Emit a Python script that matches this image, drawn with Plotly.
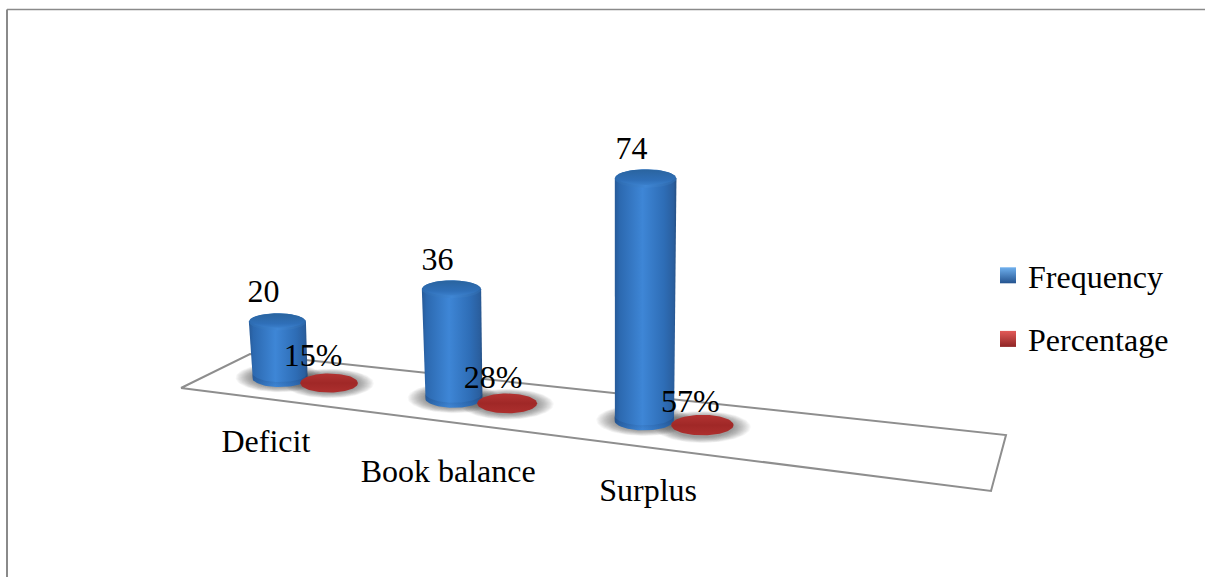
import numpy as np
import plotly.graph_objects as go

# Chart data
categories = ["Deficit", "Book balance", "Surplus"]
frequency = [20, 36, 74]
percentage = [15, 28, 57]
series_names = ["Frequency", "Percentage"]

# Floor corners in page pixels: near-left, near-right, far-right, far-left
NL, NR, FR, FL = (181, 388), (991, 491), (1006, 435), (250, 354)
FONT = "Liberation Serif, Times New Roman, serif"
FONT_SIZE = 32
# Where each cluster's two bars stand along the floor
CYLINDER_U = (0.1075, 0.3735, 0.623)
DISK_U = (0.187, 0.4475, 0.692)
BAR_DEPTH = 0.5
HEIGHT_UNIT = 2.82
LABEL_OFFSETS = [(-14, 66), (-5.5, 76), (4, 73)]

BODY_SCALE = [
    [0.0, "#275a98"], [0.08, "#2c69b0"], [0.45, "#3e86d6"],
    [0.8, "#2e6db6"], [0.95, "#2a5f9f"], [1.0, "#264f82"],
]
CAP_SCALE = [[0.0, "#3a7fcb"], [0.3, "#2f6fb8"], [1.0, "#2a649f"]]
RIM_SCALE = [[0.0, "#2c69ad"], [0.5, "#3f86d4"], [1.0, "#2c66a8"]]
DISK_SCALE = [[0.0, "#ad2f2e"], [0.5, "#a02827"], [1.0, "#b23332"]]


def solve_floor():
    """Projective map from the unit floor square to page pixels."""
    dx1, dy1 = NR[0] - FR[0], NR[1] - FR[1]
    dx2, dy2 = FL[0] - FR[0], FL[1] - FR[1]
    sx = NL[0] - NR[0] + FR[0] - FL[0]
    sy = NL[1] - NR[1] + FR[1] - FL[1]
    det = dx1 * dy2 - dx2 * dy1
    g = (sx * dy2 - dx2 * sy) / det
    h = (dx1 * sy - sx * dy1) / det

    def project(u, v):
        w = g * u + h * v + 1
        x = (NR[0] * (g + 1) - NL[0]) * u + (FL[0] * (h + 1) - NL[0]) * v + NL[0]
        y = (NR[1] * (g + 1) - NL[1]) * u + (FL[1] * (h + 1) - NL[1]) * v + NL[1]
        return x / w, y / w, 1 / w

    return project


project = solve_floor()
fig = go.Figure()


def radius(scale):
    return 28.5 * np.sqrt(scale / 0.99)


def ellipse(cx, cy, rx, ry):
    t = np.linspace(0, 2 * np.pi, 90)
    return cx + rx * np.cos(t), cy + ry * np.sin(t)


def add_fill(xs, ys, scale, kind="horizontal"):
    fig.add_trace(go.Scatter(
        x=xs, y=ys, mode="lines", fill="toself", line=dict(width=0),
        fillgradient=dict(type=kind, colorscale=scale),
        showlegend=False, hoverinfo="skip",
    ))


def add_shadow(cx, cy, rx, ry):
    # Soft contact shadow built from stacked translucent ellipses
    for k in np.linspace(1.55, 1.0, 16):
        xs, ys = ellipse(cx, cy, rx * k, ry * k)
        fig.add_trace(go.Scatter(
            x=xs, y=ys, mode="lines", fill="toself", line=dict(width=0),
            fillcolor="rgba(70,70,70,0.045)", showlegend=False, hoverinfo="skip",
        ))


def add_cylinder(cx, cy, scale, value):
    rx = radius(scale)
    height = HEIGHT_UNIT * scale * value
    lean = (cx - 600) * height * 1.4e-4
    tx, ty = cx + lean, cy - height
    rx_low = rx * 0.97
    ry_top, ry_low = rx * 0.3, rx * 0.33
    t = np.linspace(0, np.pi, 45)
    xs = np.concatenate([[tx - rx], cx - rx_low * np.cos(t), [tx + rx, tx - rx]])
    ys = np.concatenate([[ty], cy + ry_low * np.sin(t), [ty, ty]])
    add_fill(xs, ys, BODY_SCALE)
    # Darkening along the lower curve of the body
    band_x = np.concatenate([cx - rx_low * np.cos(t), cx + rx_low * np.cos(t)])
    band_y = np.concatenate([cy - 5 + ry_low * np.sin(t), cy + ry_low * np.sin(t)])
    add_fill(band_x, band_y, [[0, "rgba(25,60,110,0)"], [1, "rgba(25,60,110,0.4)"]], "vertical")
    # Bevelled cap: a lighter rim under a darker top face
    xs, ys = ellipse(tx, ty, rx, ry_top)
    add_fill(xs, ys, RIM_SCALE)
    xs, ys = ellipse(tx, ty - 1.2, rx * 0.95, ry_top * 0.85)
    add_fill(xs, ys, CAP_SCALE, "vertical")
    return tx, ty


def add_disk(cx, cy, scale, value):
    rx = radius(scale)
    height = HEIGHT_UNIT * scale * value
    xs, ys = ellipse(cx, cy - height, rx, rx * 0.33)
    add_fill(xs, ys, DISK_SCALE, "vertical")
    return cx, cy - height


# Floor outline
corners = [project(u, v)[:2] for u, v in [(0, 0), (1, 0), (1, 1), (0, 1), (0, 0)]]
fig.add_trace(go.Scatter(
    x=[c[0] for c in corners], y=[c[1] for c in corners], mode="lines",
    line=dict(color="#8e8e8e", width=2), showlegend=False, hoverinfo="skip",
))

# Base positions of every bar on the floor
bases = [
    (project(cu, BAR_DEPTH), project(du, BAR_DEPTH))
    for cu, du in zip(CYLINDER_U, DISK_U)
]

for (fx, fy, fs), (px, py, ps) in bases:
    add_shadow(fx, fy, radius(fs), radius(fs) * 0.33)
    add_shadow(px, py, radius(ps), radius(ps) * 0.33)

freq_labels, pct_labels = [], []
for idx, ((fx, fy, fs), (px, py, ps)) in enumerate(bases):
    tx, ty = add_cylinder(fx, fy, fs, frequency[idx])
    dx, dy = add_disk(px, py, ps, percentage[idx] / 100)
    freq_labels.append((tx - 14, ty - 27.5))
    pct_labels.append((dx - 16 + (dx - 329) * 0.0107, dy - 25 + (dx - 329) * 0.0094))


def add_text(points, texts):
    fig.add_trace(go.Scatter(
        x=[p[0] for p in points], y=[p[1] for p in points], text=texts,
        mode="text", textposition="middle center",
        textfont=dict(family=FONT, size=FONT_SIZE, color="#000000"),
        showlegend=False, hoverinfo="skip",
    ))


add_text(freq_labels, [str(v) for v in frequency])
add_text(pct_labels, [f"{v}%" for v in percentage])
add_text(
    [(b[0][0] + o[0], b[0][1] + o[1]) for b, o in zip(bases, LABEL_OFFSETS)],
    categories,
)

# Legend keys
key_styles = [("#24538f", "#6fb0ee"), ("#8f2525", "#e25a58")]
for name, (color, light) in zip(series_names, key_styles):
    fig.add_trace(go.Scatter(
        x=[None], y=[None], mode="markers", name=name, legendgroup=name,
        marker=dict(symbol="square", size=17, color=light,
                    gradient=dict(type="vertical", color=color),
                    line=dict(width=0)),
    ))

fig.update_layout(
    width=1205, height=577,
    margin=dict(l=0, r=0, t=0, b=0),
    paper_bgcolor="#ffffff", plot_bgcolor="#ffffff",
    xaxis=dict(range=[0, 1205], visible=False, fixedrange=True),
    yaxis=dict(range=[577, 0], visible=False, fixedrange=True),
    legend=dict(
        x=988 / 1205, y=1 - 248 / 577, xanchor="left", yanchor="top",
        font=dict(family=FONT, size=FONT_SIZE, color="#000000"),
        bgcolor="rgba(0,0,0,0)", tracegroupgap=19, itemwidth=30,
    ),
    shapes=[
        dict(type="line", xref="paper", yref="paper", x0=7 / 1205, x1=1,
             y0=1 - 9.5 / 577, y1=1 - 9.5 / 577, line=dict(color="#8a8a8a", width=1.5)),
        dict(type="line", xref="paper", yref="paper", x0=7 / 1205, x1=7 / 1205,
             y0=0, y1=1 - 9.5 / 577, line=dict(color="#8a8a8a", width=2)),
    ],
)

fig.write_html("out.html", config={"displayModeBar": False})
